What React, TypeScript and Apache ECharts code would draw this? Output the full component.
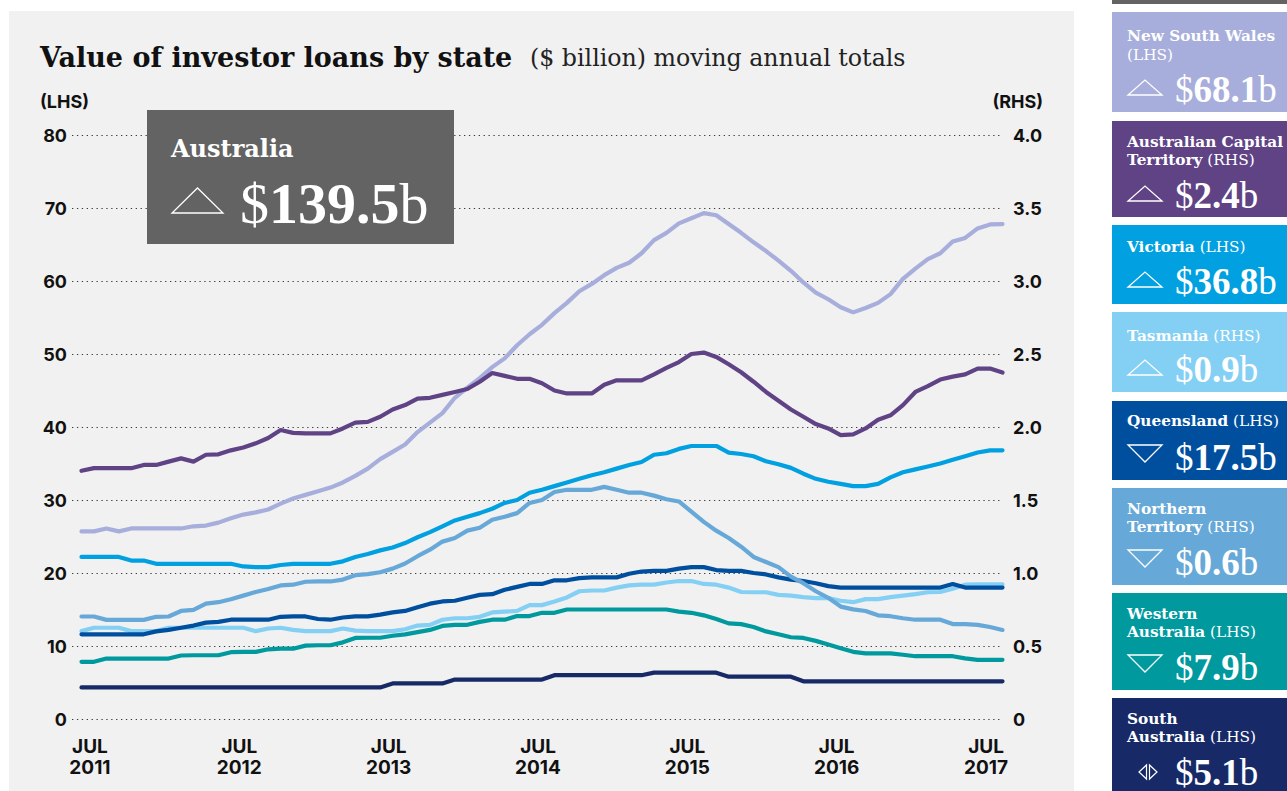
import React, { useEffect, useRef } from "react";
import * as echarts from "echarts";

// ---------- DATA ----------
const MONTHS = ["Jan", "Feb", "Mar", "Apr", "May", "Jun", "Jul", "Aug", "Sep", "Oct", "Nov", "Dec"];
// Monthly categories: Jun 2011 .. Aug 2017
const categories: string[] = [];
for (let k = 0; k < 75; k++) {
  const m = (5 + k) % 12;
  const y = 2011 + Math.floor((5 + k) / 12);
  categories.push(`${MONTHS[m]} ${y}`);
}

const lhsTicks = [0, 10, 20, 30, 40, 50, 60, 70, 80];
const rhsTicks = [0, 0.5, 1.0, 1.5, 2.0, 2.5, 3.0, 3.5, 4.0];

const nsw = [
  25.7, 25.7, 26.1, 25.7, 26.1, 26.1, 26.1, 26.1, 26.1, 26.4,
  26.5, 26.9, 27.5, 28.0, 28.3, 28.7, 29.5, 30.2, 30.7, 31.2,
  31.7, 32.4, 33.3, 34.3, 35.6, 36.6, 37.6, 39.3, 40.6, 41.9,
  44.0, 45.4, 46.7, 48.2, 49.4, 51.2, 52.7, 54.0, 55.6, 57.0,
  58.6, 59.6, 60.8, 61.8, 62.5, 63.8, 65.6, 66.6, 67.9, 68.6,
  69.3, 69.0, 67.8, 66.6, 65.3, 64.1, 62.8, 61.4, 59.8, 58.4,
  57.5, 56.4, 55.7, 56.3, 57.0, 58.2, 60.3, 61.7, 63.0, 63.8,
  65.4, 65.9, 67.2, 67.75, 67.8,
];
const act = [
  1.70, 1.718, 1.718, 1.718, 1.718, 1.74, 1.74, 1.763, 1.785, 1.763,
  1.81, 1.813, 1.84, 1.86, 1.888, 1.925, 1.98, 1.96, 1.956, 1.956,
  1.956, 1.99, 2.03, 2.035, 2.07, 2.12, 2.15, 2.195, 2.20, 2.22,
  2.24, 2.26, 2.31, 2.37, 2.35, 2.33, 2.33, 2.30, 2.25, 2.23,
  2.23, 2.23, 2.29, 2.32, 2.32, 2.32, 2.36, 2.405, 2.445, 2.50,
  2.51, 2.48, 2.43, 2.375, 2.31, 2.24, 2.18, 2.12, 2.07, 2.02,
  1.99, 1.945, 1.95, 1.99, 2.05, 2.08, 2.15, 2.24, 2.28, 2.325,
  2.345, 2.36, 2.40, 2.40, 2.373,
];
const vic = [
  22.2, 22.2, 22.2, 22.2, 21.7, 21.7, 21.26, 21.26, 21.26, 21.26,
  21.26, 21.26, 21.26, 20.9, 20.8, 20.8, 21.1, 21.26, 21.26, 21.26,
  21.26, 21.6, 22.2, 22.6, 23.1, 23.5, 24.1, 24.9, 25.6, 26.4,
  27.2, 27.7, 28.2, 28.8, 29.6, 30.0, 31.0, 31.4, 31.9, 32.4,
  32.9, 33.4, 33.8, 34.3, 34.8, 35.2, 36.2, 36.4, 37.0, 37.4,
  37.4, 37.4, 36.5, 36.3, 36.0, 35.3, 34.9, 34.4, 33.6, 32.9,
  32.5, 32.2, 31.9, 31.9, 32.2, 33.1, 33.8, 34.2, 34.6, 35.0,
  35.5, 36.0, 36.5, 36.8, 36.8,
];
const tas = [
  0.602, 0.625, 0.625, 0.625, 0.602, 0.602, 0.602, 0.625, 0.625, 0.625,
  0.625, 0.625, 0.625, 0.625, 0.602, 0.62, 0.625, 0.61, 0.602, 0.602,
  0.602, 0.62, 0.605, 0.602, 0.602, 0.602, 0.615, 0.64, 0.645, 0.68,
  0.69, 0.69, 0.70, 0.73, 0.735, 0.74, 0.78, 0.78, 0.805, 0.833,
  0.875, 0.88, 0.88, 0.90, 0.915, 0.92, 0.92, 0.935, 0.945, 0.945,
  0.925, 0.92, 0.90, 0.87, 0.868, 0.868, 0.85, 0.845, 0.835, 0.828,
  0.828, 0.81, 0.80, 0.821, 0.821, 0.835, 0.845, 0.855, 0.868, 0.87,
  0.892, 0.92, 0.922, 0.922, 0.922,
];
const qld = [
  11.6, 11.6, 11.6, 11.6, 11.6, 11.6, 12.0, 12.2, 12.5, 12.8,
  13.2, 13.3, 13.6, 13.6, 13.6, 13.6, 14.0, 14.05, 14.05, 13.7,
  13.6, 13.9, 14.05, 14.05, 14.3, 14.6, 14.8, 15.3, 15.8, 16.1,
  16.2, 16.6, 17.0, 17.1, 17.7, 18.1, 18.5, 18.5, 19.0, 19.0,
  19.3, 19.4, 19.4, 19.4, 19.9, 20.2, 20.3, 20.3, 20.6, 20.8,
  20.8, 20.4, 20.3, 20.3, 20.0, 19.8, 19.4, 19.1, 18.9, 18.6,
  18.2, 18.0, 18.0, 18.0, 18.0, 18.0, 18.0, 18.0, 18.0, 18.0,
  18.5, 18.0, 18.0, 18.0, 18.0,
];
const nt = [
  0.702, 0.702, 0.679, 0.679, 0.679, 0.679, 0.70, 0.702, 0.74, 0.747,
  0.79, 0.80, 0.82, 0.845, 0.87, 0.89, 0.915, 0.92, 0.94, 0.942,
  0.942, 0.955, 0.985, 0.992, 1.005, 1.03, 1.065, 1.115, 1.16, 1.215,
  1.24, 1.29, 1.31, 1.365, 1.385, 1.41, 1.48, 1.50, 1.555, 1.57,
  1.57, 1.57, 1.59, 1.57, 1.55, 1.55, 1.53, 1.505, 1.49, 1.42,
  1.35, 1.29, 1.24, 1.18, 1.11, 1.075, 1.04, 0.975, 0.93, 0.875,
  0.83, 0.77, 0.751, 0.74, 0.71, 0.704, 0.69, 0.68, 0.68, 0.68,
  0.65, 0.65, 0.645, 0.63, 0.61,
];
const wa = [
  7.83, 7.83, 8.28, 8.28, 8.28, 8.28, 8.28, 8.28, 8.7, 8.73,
  8.73, 8.73, 9.15, 9.2, 9.2, 9.55, 9.63, 9.63, 10.05, 10.1,
  10.1, 10.5, 11.1, 11.13, 11.13, 11.4, 11.6, 11.9, 12.2, 12.75,
  12.9, 12.9, 13.3, 13.6, 13.6, 14.1, 14.1, 14.55, 14.55, 15.0,
  15.0, 15.0, 15.0, 15.0, 15.0, 15.0, 15.0, 15.0, 14.7, 14.55,
  14.2, 13.7, 13.1, 13.0, 12.6, 12.0, 11.6, 11.2, 11.1, 10.7,
  10.2, 9.7, 9.2, 9.0, 9.0, 9.0, 8.8, 8.6, 8.6, 8.6,
  8.6, 8.3, 8.1, 8.1, 8.1,
];
const sa = [
  4.33, 4.33, 4.33, 4.33, 4.33, 4.33, 4.33, 4.33, 4.33, 4.33,
  4.33, 4.33, 4.33, 4.33, 4.33, 4.33, 4.33, 4.33, 4.33, 4.33,
  4.33, 4.33, 4.33, 4.33, 4.33, 4.87, 4.87, 4.87, 4.87, 4.87,
  5.4, 5.4, 5.4, 5.4, 5.4, 5.4, 5.4, 5.4, 6.0, 6.0,
  6.0, 6.0, 6.0, 6.0, 6.0, 6.0, 6.35, 6.35, 6.35, 6.35,
  6.35, 6.35, 5.8, 5.8, 5.8, 5.8, 5.8, 5.8, 5.16, 5.16,
  5.16, 5.16, 5.16, 5.16, 5.16, 5.16, 5.16, 5.16, 5.16, 5.16,
  5.16, 5.16, 5.16, 5.16, 5.16,
];

const stateKeys = ["NSW", "ACT", "VIC", "TAS", "QLD", "NT", "WA", "SA"];
const stateNames = [
  "New South Wales", "Australian Capital Territory", "Victoria", "Tasmania",
  "Queensland", "Northern Territory", "Western Australia", "South Australia",
];
const stateSides = ["LHS", "RHS", "LHS", "RHS", "LHS", "RHS", "LHS", "LHS"];
const stateSeries = [nsw, act, vic, tas, qld, nt, wa, sa];
const stateLatest = ["68.1", "2.4", "36.8", "0.9", "17.5", "0.6", "7.9", "5.1"];
const stateTrend = ["up", "up", "up", "up", "down", "down", "down", "flat"];
const stateColors = ["#a7aedb", "#5f4385", "#00a0e1", "#84cff4", "#004f9f", "#66a8d8", "#00999e", "#172a67"];

const australiaName = "Australia";
const australiaLatest = "139.5";

const titleText = "Value of investor loans by state";
const subtitleText = "($ billion) moving annual totals";

// ---------- STYLE / LAYOUT ----------
const SERIF = "'DejaVu Serif', serif";
const TIMES = "'Liberation Serif', serif";
const SANS = "Inter, 'Open Sans', sans-serif";
const INK = "#111111";

// name line breaks for the side panel (layout only)
const nameLines: string[][] = [
  ["New South Wales", ""],
  ["Australian Capital", "Territory"],
  ["Victoria"],
  ["Tasmania"],
  ["Queensland"],
  ["Northern", "Territory"],
  ["Western", "Australia"],
  ["South", "Australia"],
];
const boxTop = [12, 121, 225, 312, 401, 488, 593, 698];
const boxBottom = [112, 217, 304, 392, 480, 585, 690, 800];
const nameY = [[35.5, 55], [141.5, 160], [246.5], [335.5], [420.5], [508.5, 527], [613.5, 632], [718.5, 737]];
const valueY = [89, 195, 281, 369, 457, 562, 667, 772];
const NAME_SIZE = 15.3;

function valueText(x: number, y: number, num: string, size: number) {
  return {
    type: "text",
    x,
    y,
    z: 60,
    style: {
      text: `{r|$}{b|${num}}{r|b}`,
      rich: {
        r: { fontFamily: TIMES, fontSize: size, fill: "#ffffff" },
        b: { fontFamily: TIMES, fontSize: size, fontWeight: "bold", fill: "#ffffff" },
      },
      fontFamily: TIMES,
      fontSize: size,
      fill: "#ffffff",
      align: "left",
      verticalAlign: "middle",
    },
  };
}

function nameText(x: number, y: number, bold: string, reg: string, size: number) {
  let t = "";
  if (bold) t += `{b|${bold}}`;
  if (reg) t += `{r|${bold ? " " : ""}${reg}}`;
  return {
    type: "text",
    x,
    y,
    z: 60,
    style: {
      text: t,
      rich: {
        b: { fontFamily: SERIF, fontSize: size, fontWeight: "bold", fill: "#ffffff" },
        r: { fontFamily: SERIF, fontSize: size, fill: "#ffffff" },
      },
      fontFamily: SERIF,
      fontSize: size,
      fill: "#ffffff",
      align: "left",
      verticalAlign: "middle",
    },
  };
}

function triUp(x0: number, x1: number, yTop: number, yBase: number) {
  return {
    type: "polygon",
    z: 60,
    shape: { points: [[x0, yBase], [x1, yBase], [(x0 + x1) / 2, yTop]] },
    style: { fill: "none", stroke: "#ffffff", lineWidth: 1.3 },
  };
}
function triDown(x0: number, x1: number, yTop: number, yApex: number) {
  return {
    type: "polygon",
    z: 60,
    shape: { points: [[x0, yTop], [x1, yTop], [(x0 + x1) / 2, yApex]] },
    style: { fill: "none", stroke: "#ffffff", lineWidth: 1.3 },
  };
}

function buildGraphic() {
  const els: any[] = [];
  // chart background
  els.push({ type: "rect", z: -10, shape: { x: 9, y: 11, width: 1065, height: 790 }, style: { fill: "#f1f1f1" } });
  // title
  els.push({
    type: "text", x: 40, y: 57, z: 10,
    style: { text: titleText, fontFamily: SERIF, fontSize: 27, fontWeight: "bold", fill: INK, align: "left", verticalAlign: "middle" },
  });
  els.push({
    type: "text", x: 530, y: 58, z: 10,
    style: { text: subtitleText, fontFamily: SERIF, fontSize: 23.7, fill: "#222222", align: "left", verticalAlign: "middle" },
  });
  els.push({
    type: "text", x: 40, y: 101, z: 10,
    style: { text: "(LHS)", fontFamily: SANS, fontSize: 18, fontWeight: "bold", fill: INK, align: "left", verticalAlign: "middle" },
  });
  els.push({
    type: "text", x: 1043, y: 101, z: 10,
    style: { text: "(RHS)", fontFamily: SANS, fontSize: 18, fontWeight: "bold", fill: INK, align: "right", verticalAlign: "middle" },
  });
  // Australia box
  els.push({ type: "rect", z: 50, shape: { x: 147, y: 110, width: 307, height: 134 }, style: { fill: "#636363" } });
  els.push({
    type: "text", x: 171, y: 148, z: 60,
    style: { text: australiaName, fontFamily: SERIF, fontSize: 24, fontWeight: "bold", fill: "#ffffff", align: "left", verticalAlign: "middle" },
  });
  els.push(triUp(172, 223, 188, 213));
  els.push(valueText(240, 203, australiaLatest, 58));

  // side panel
  els.push({ type: "rect", z: 50, shape: { x: 1112, y: 0, width: 200, height: 4 }, style: { fill: "#636363" } });
  stateKeys.forEach((_, i) => {
    els.push({
      type: "rect", z: 50,
      shape: { x: 1112, y: boxTop[i], width: 200, height: boxBottom[i] - boxTop[i] },
      style: { fill: stateColors[i] },
    });
    const lines = nameLines[i];
    const side = `(${stateSides[i]})`;
    if (lines.length === 1) {
      els.push(nameText(1127, nameY[i][0], lines[0], side, NAME_SIZE));
    } else {
      els.push(nameText(1127, nameY[i][0], lines[0], "", NAME_SIZE));
      els.push(nameText(1127, nameY[i][1], lines[1], side, NAME_SIZE));
    }
    const vc = valueY[i];
    if (stateTrend[i] === "up") {
      els.push(triUp(1128, 1162, vc - 9, vc + 6));
    } else if (stateTrend[i] === "down") {
      els.push(triDown(1128, 1162, vc - 12, vc + 5));
    } else {
      els.push({
        type: "polygon", z: 60,
        shape: { points: [[1146.5, vc - 7], [1146.5, vc + 7], [1139, vc]] },
        style: { fill: "none", stroke: "#ffffff", lineWidth: 1.2 },
      });
      els.push({
        type: "polygon", z: 60,
        shape: { points: [[1149.5, vc - 7], [1149.5, vc + 7], [1157, vc]] },
        style: { fill: "none", stroke: "#ffffff", lineWidth: 1.2 },
      });
    }
    els.push(valueText(1175, vc, stateLatest[i], 37));
  });
  return els;
}

const GRID_TOP = 135;
const GRID_H = 584;

export default function App() {
  const ref = useRef<HTMLDivElement>(null);

  useEffect(() => {
    if (!ref.current) return;
    const chart = echarts.init(ref.current, undefined, { renderer: "svg" });

    const axisLabelStyle = { fontFamily: SANS, fontSize: 18, fontWeight: "bold" as const, color: INK };

    const series = stateKeys.map((k, i) => ({
      name: stateNames[i],
      type: "line" as const,
      xAxisIndex: 1,
      yAxisIndex: stateSides[i] === "LHS" ? 2 : 3,
      data: stateSeries[i],
      showSymbol: false,
      symbol: "none",
      lineStyle: { width: 4.2, color: stateColors[i], cap: "round" as const },
      itemStyle: { color: stateColors[i] },
      z: 5,
    }));

    const option: any = {
      animation: false,
      backgroundColor: "#ffffff",
      grid: [
        { left: 72, right: 1287 - 1003, top: GRID_TOP, height: GRID_H },
        { left: 81.5, right: 1287 - 1002.5, top: GRID_TOP, height: GRID_H },
      ],
      xAxis: [
        { gridIndex: 0, type: "value", min: 0, max: 1, show: false },
        {
          gridIndex: 1,
          type: "category",
          data: categories,
          boundaryGap: false,
          axisLine: { show: false },
          axisTick: { show: false },
          splitLine: { show: false },
          axisLabel: {
            interval: (idx: number) => idx % 12 === 1,
            formatter: (v: string) => v.toUpperCase().replace(" ", "\n"),
            fontFamily: SANS,
            fontSize: 19,
            fontWeight: "bold",
            color: INK,
            lineHeight: 21,
            margin: 17,
            padding: [0, 8, 0, 0],
          },
        },
      ],
      yAxis: [
        {
          gridIndex: 0,
          type: "value",
          position: "left",
          min: lhsTicks[0],
          max: lhsTicks[lhsTicks.length - 1],
          interval: lhsTicks[1] - lhsTicks[0],
          axisLine: { show: false },
          axisTick: { show: false },
          axisLabel: { ...axisLabelStyle, margin: 5 },
          splitLine: { show: true, lineStyle: { type: [1.3, 3.6], color: "#3a3a3a", width: 1.2 } },
        },
        {
          gridIndex: 0,
          type: "value",
          position: "right",
          min: rhsTicks[0],
          max: rhsTicks[rhsTicks.length - 1],
          interval: rhsTicks[1] - rhsTicks[0],
          axisLine: { show: false },
          axisTick: { show: false },
          axisLabel: { ...axisLabelStyle, margin: 10, formatter: (v: number) => (v === 0 ? "0" : v.toFixed(1)) },
          splitLine: { show: false },
        },
        { gridIndex: 1, type: "value", min: 0, max: 80, show: false },
        { gridIndex: 1, type: "value", min: 0, max: 4, show: false },
      ],
      graphic: { elements: buildGraphic() },
      series,
    };

    chart.setOption(option);
    return () => chart.dispose();
  }, []);

  return (
    <div style={{ position: "fixed", left: 0, top: 0, width: 1287, height: 791, background: "#ffffff" }}>
      <div ref={ref} style={{ width: 1287, height: 791 }} />
    </div>
  );
}
